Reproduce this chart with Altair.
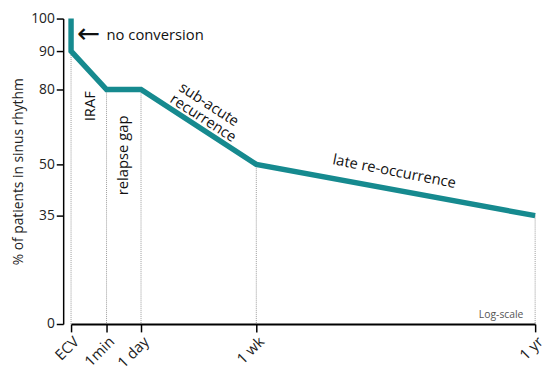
import altair as alt
import pandas as pd

# ---- data ----
stage_labels = ["ECV", "1min", "1 day", "1 wk", "1 yr"]
stage_pos = [0, 1, 2, 3, 4]

line_x = [0, 0, 1, 2, 3, 4]
line_y = [100, 90, 80, 80, 50, 35]

drop_x = [0, 1, 2, 3, 4]
drop_y = [90, 80, 80, 50, 35]

y_ticks = [0, 35, 50, 80, 90, 100]

ann_text = ["no conversion", "IRAF", "relapse gap", "sub-acute", "recurrence", "late re-occurrence"]
ann_x = [1.0, 0.53, 1.49, 2.59, 2.54, 3.495]
ann_y = [94.9, 73.3, 53.6, 74.1, 68.6, 48.0]
ann_angle = [0, 270, 270, 33, 33, 11]
ann_align = ["left", "center", "center", "center", "center", "center"]

arrow_x = [0.5]
arrow_y = [94.9]

note_text = ["Log-scale"]
note_x = [3.958]
note_y = [2.9]

# ---- scales (hand-drawn, piecewise) ----
x_range = [0, 36, 71, 188, 471]
y_range = [310, 200, 148, 72, 33, 0]

TEAL = "#168A8F"
FONT = "Open Sans"

line_df = pd.DataFrame({"x": line_x, "y": line_y, "i": list(range(len(line_x)))})
drop_df = pd.DataFrame({"x": drop_x, "y": drop_y, "y0": [0] * len(drop_x)})
arrow_df = pd.DataFrame({"x": arrow_x, "y": arrow_y, "t": ["\u2190"]})
note_df = pd.DataFrame({"x": note_x, "y": note_y, "t": note_text})

x_scale = alt.Scale(domain=stage_pos, range=x_range, zero=False, nice=False)
y_scale = alt.Scale(domain=y_ticks, range=y_range, zero=False, nice=False)

label_expr = "[" + ",".join("'" + s + "'" for s in stage_labels) + "][datum.value]"

x_axis = alt.Axis(
    values=stage_pos, labelExpr=label_expr, title=None, grid=False,
    labelAngle=-45, labelAlign="right", labelBaseline="top", labelPadding=2,
    labelFontSize=15, labelFont=FONT, labelColor="#222",
    tickSize=8, tickColor="black", tickWidth=1.5,
    domainColor="black", domainWidth=2, labelFlush=False, labelOverlap=False,
)
y_axis = alt.Axis(
    values=y_ticks, title="% of patients in sinus rhythm", grid=False, offset=8,
    labelFontSize=14, labelFont=FONT, labelColor="#222", labelPadding=2,
    tickSize=7, tickColor="black", tickWidth=1.5, labelOverlap=False,
    domainColor="black", domainWidth=1.5,
    titleFontSize=14, titleFont=FONT, titleFontWeight="normal", titleColor="#222",
    titleX=-45, titleY=155, titleAngle=-90, titleAlign="center", titleBaseline="middle",
)

X = alt.X("x:Q", scale=x_scale, axis=x_axis)
Y = alt.Y("y:Q", scale=y_scale, axis=y_axis)

drops = alt.Chart(drop_df).mark_rule(color="#9a9a9a", strokeDash=[1, 1], strokeWidth=1).encode(
    x=X, y=Y, y2="y0:Q"
)

line = alt.Chart(line_df).mark_line(color=TEAL, strokeWidth=5.5, strokeJoin="miter", strokeCap="butt").encode(
    x=X, y=Y, order="i:Q"
)

layers = [drops, line]
for t, xx, yy, ang, al in zip(ann_text, ann_x, ann_y, ann_angle, ann_align):
    d = pd.DataFrame({"x": [xx], "y": [yy], "t": [t]})
    layers.append(
        alt.Chart(d).mark_text(font=FONT, fontSize=15, color="#111", angle=ang, align=al, baseline="middle").encode(
            x=X, y=Y, text="t:N"
        )
    )

arrow = alt.Chart(arrow_df).mark_text(font="DejaVu Sans", fontSize=28, color="#111", align="center", baseline="middle").encode(
    x=X, y=Y, text="t:N"
)
note = alt.Chart(note_df).mark_text(font=FONT, fontSize=10.5, color="#555", align="right", baseline="middle").encode(
    x=X, y=Y, text="t:N"
)
layers += [arrow, note]

chart = alt.layer(*layers).properties(
    width=471, height=310,
    autosize=alt.AutoSizeParams(type="none"),
    padding={"left": 64, "top": 8, "right": 10, "bottom": 46},
).configure_view(stroke=None)

chart.save("out.html", embed_options={"renderer": "svg", "actions": False})
